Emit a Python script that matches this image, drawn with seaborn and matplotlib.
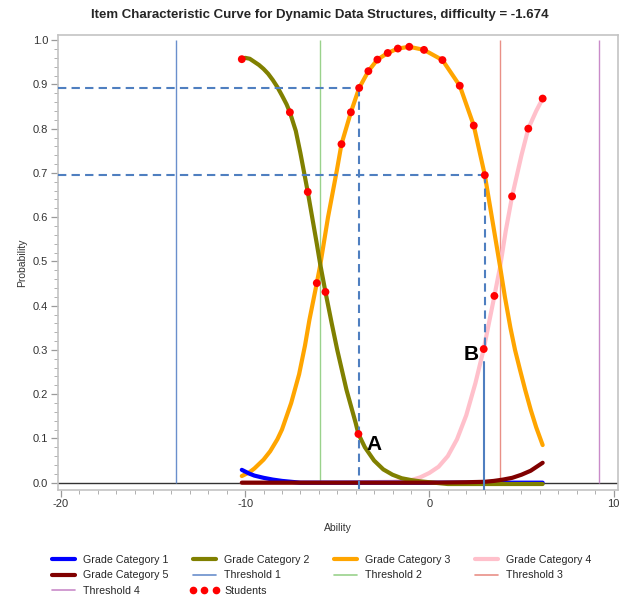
import numpy as np
import pandas as pd
import matplotlib
matplotlib.use("Agg")
import matplotlib.pyplot as plt
from matplotlib.lines import Line2D
from matplotlib.ticker import MultipleLocator, FormatStrFormatter
import seaborn as sns

# ---------------- data ----------------
cat1_x = [-10.18, -9.8, -9.5, -9.0, -8.5, -8.0, -7.5, -7.0, 6.15]
cat1_y = [0.029, 0.021, 0.016, 0.011, 0.007, 0.004, 0.002, 0.0, 0.0]

cat2_x = [-10.18, -10.0, -9.75, -9.5, -9.25, -9.0, -8.75, -8.5, -8.25, -8.0, -7.75,
          -7.57, -7.25, -7.0, -6.6, -6.11, -5.93, -5.64, -5.3, -5.0, -4.5, -4.0,
          -3.85, -3.5, -3.0, -2.5, -2.0, -1.5, -1.0, -0.5, 0.0, 1.0, 2.0, 3.0,
          4.0, 5.0, 6.15]
cat2_y = [0.957, 0.960, 0.958, 0.951, 0.944, 0.935, 0.924, 0.91, 0.894, 0.875, 0.855,
          0.837, 0.795, 0.745, 0.657, 0.54, 0.495, 0.431, 0.36, 0.30, 0.21, 0.135,
          0.11, 0.08, 0.05, 0.03, 0.018, 0.01, 0.006, 0.003, 0.001, -0.003, -0.003,
          -0.003, -0.003, -0.003, -0.003]

cat3_x = [-10.18, -9.75, -9.5, -9.0, -8.64, -8.25, -8.0, -7.5, -7.07, -6.75, -6.51,
          -6.11, -5.93, -5.5, -5.02, -4.77, -4.26, -3.81, -3.31, -2.82, -2.26, -1.71,
          -1.09, -0.29, 0.71, 1.65, 2.41, 3.01, 3.5, 3.84, 4.1, 4.4, 4.65, 4.92, 5.2,
          5.5, 5.8, 6.15]
cat3_y = [0.015, 0.024, 0.032, 0.052, 0.071, 0.098, 0.12, 0.18, 0.245, 0.31, 0.368,
          0.451, 0.49, 0.60, 0.706, 0.765, 0.837, 0.892, 0.930, 0.956, 0.971, 0.981,
          0.985, 0.978, 0.955, 0.897, 0.807, 0.695, 0.573, 0.488, 0.42, 0.35, 0.30,
          0.255, 0.21, 0.165, 0.125, 0.085]

cat4_x = [-10.18, -5.0, -2.0, -1.05, -0.5, 0.0, 0.5, 1.0, 1.5, 2.0, 2.5, 2.95, 3.53,
          3.84, 4.15, 4.49, 5.0, 5.37, 5.8, 6.15]
cat4_y = [0.0, 0.0, 0.002, 0.005, 0.012, 0.022, 0.036, 0.06, 0.098, 0.152, 0.225,
          0.302, 0.422, 0.488, 0.57, 0.647, 0.74, 0.80, 0.84, 0.868]

cat5_x = [-10.18, 0.0, 2.0, 3.0, 3.5, 4.0, 4.5, 5.0, 5.5, 6.15]
cat5_y = [0.0, 0.0, 0.001, 0.002, 0.004, 0.007, 0.011, 0.018, 0.027, 0.045]

student_x = [-10.18, -7.57, -6.6, -6.11, -5.64, -4.77, -4.26, -3.81, -3.85, -3.31,
             -2.82, -2.26, -1.71, -1.09, -0.29, 0.71, 1.65, 2.41, 3.01, 2.95, 3.53,
             4.49, 5.37, 6.15]
student_y = [0.957, 0.837, 0.657, 0.451, 0.431, 0.765, 0.837, 0.892, 0.110, 0.930,
             0.956, 0.971, 0.981, 0.985, 0.978, 0.955, 0.897, 0.807, 0.695, 0.302,
             0.422, 0.647, 0.80, 0.868]

thresholds = [-13.76, -5.93, 3.83, 9.21]
threshold_labels = ["Threshold 1", "Threshold 2", "Threshold 3", "Threshold 4"]
threshold_colors = ["#6a8fcc", "#9ad28c", "#e99087", "#c98bc9"]

cat_labels = ["Grade Category 1", "Grade Category 2", "Grade Category 3",
              "Grade Category 4", "Grade Category 5"]
cat_colors = ["#0000ff", "#808000", "#ffa500", "#ffc0cb", "#800000"]

# guide (student A and B)
guideA_x, guideA_y = -3.81, 0.892
guideB_x, guideB_y, guideB_low = 3.01, 0.695, 0.302

title = "Item Characteristic Curve for Dynamic Data Structures, difficulty = -1.674"

# ---------------- build table ----------------
frames = []
for lab, xs, ys in zip(cat_labels, [cat1_x, cat2_x, cat3_x, cat4_x, cat5_x],
                       [cat1_y, cat2_y, cat3_y, cat4_y, cat5_y]):
    frames.append(pd.DataFrame({"Ability": xs, "Probability": ys, "Curve": lab}))
curves = pd.concat(frames, ignore_index=True)
students = pd.DataFrame({"Ability": student_x, "Probability": student_y})

# ---------------- plotting ----------------
sns.set_style("ticks")
plt.rcParams["font.family"] = ["Liberation Sans", "DejaVu Sans"]
plt.rcParams["axes.unicode_minus"] = False

fig = plt.figure(figsize=(6.23, 5.98), dpi=100)
ax = fig.add_axes([0.093, 0.181, 0.899, 0.760])

ax.axhline(0, color="#333333", lw=1.0, zorder=1)
ax.vlines(thresholds, 0, 1, colors=threshold_colors, lw=1.0, zorder=2)

palette = dict(zip(cat_labels, cat_colors))
hue_order = [cat_labels[3], cat_labels[2], cat_labels[0], cat_labels[1], cat_labels[4]]
sns.lineplot(data=curves, x="Ability", y="Probability", hue="Curve",
             hue_order=hue_order, palette=palette, linewidth=3.0,
             estimator=None, sort=False, legend=False, ax=ax, zorder=3)

dash_c = "#4f7fc0"
ax.plot([-20.16, guideA_x], [guideA_y, guideA_y], color=dash_c, lw=1.5,
        dashes=(4, 2.5), zorder=4)
ax.plot([guideA_x, guideA_x], [guideA_y, -0.016], color=dash_c, lw=1.5,
        dashes=(4, 2.5), zorder=4)
ax.plot([-20.16, guideB_x], [guideB_y, guideB_y], color=dash_c, lw=1.5,
        dashes=(4, 2.5), zorder=4)
ax.plot([guideB_x, guideB_x], [guideB_y, guideB_low], color=dash_c, lw=1.5,
        dashes=(4, 2.5), zorder=4)
ax.plot([guideB_x - 0.06, guideB_x - 0.06], [guideB_low - 0.03, -0.018],
        color=dash_c, lw=1.5, zorder=4)

sns.scatterplot(data=students, x="Ability", y="Probability", color="#ff0000",
                s=32, edgecolor="none", ax=ax, zorder=5)

ax.text(-2.98, 0.086, "A", fontsize=15, fontweight="bold", ha="center",
        va="center", color="black", zorder=6)
ax.text(2.25, 0.29, "B", fontsize=15, fontweight="bold", ha="center",
        va="center", color="black", zorder=6)

ax.set_xlim(-20.16, 10.24)
ax.set_ylim(-0.016, 1.011)
ax.xaxis.set_major_locator(MultipleLocator(10))
ax.xaxis.set_minor_locator(MultipleLocator(1))
ax.yaxis.set_major_locator(MultipleLocator(0.1))
ax.yaxis.set_minor_locator(MultipleLocator(0.02))
ax.yaxis.set_major_formatter(FormatStrFormatter("%.1f"))

for s in ax.spines.values():
    s.set_color("#c4c4c4")
    s.set_linewidth(1.2)
ax.tick_params(which="major", length=5, width=0.9, color="#9a9a9a",
               labelsize=8, labelcolor="#333333", pad=2)
ax.tick_params(which="minor", length=3, width=0.7, color="#b0b0b0")

ax.set_xlabel("Ability", fontsize=7.5, color="#333333", labelpad=10)
ax.set_ylabel("Probability", fontsize=7.5, color="#333333", labelpad=4)

fig.text(0.514, 0.975, title, ha="center", va="center", fontsize=9.5,
         fontweight="bold", family=["Liberation Sans Narrow", "Liberation Sans"])

# legend (row-major order arranged for column filling)
h_cat = [Line2D([], [], color=c, lw=3) for c in cat_colors]
h_thr = [Line2D([], [], color=c, lw=1.2) for c in threshold_colors]
h_stu = Line2D([], [], color="#ff0000", marker="o", linestyle="none", markersize=4.5)
row_items = list(zip(h_cat + h_thr + [h_stu], cat_labels + threshold_labels + ["Students"]))
col_order = [0, 4, 8, 1, 5, 9, 2, 6, 3, 7]
handles = [row_items[i][0] for i in col_order]
labels = [row_items[i][1] for i in col_order]
fig.legend(handles, labels, ncol=4, loc="upper left", bbox_to_anchor=(0.078, 0.072),
           frameon=False, fontsize=7.7, handlelength=2.75, handletextpad=0.5,
           columnspacing=1.95, labelspacing=0.5, borderpad=0, borderaxespad=0,
           numpoints=3)

fig.savefig("out.png", dpi=100)
